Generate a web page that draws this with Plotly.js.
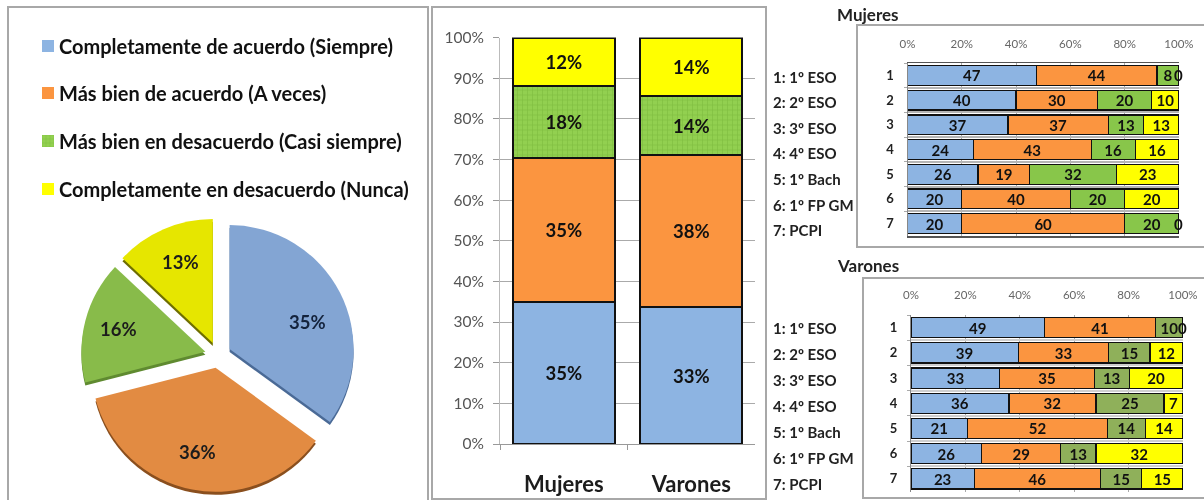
<!DOCTYPE html>
<html><head><meta charset="utf-8">
<script src="https://cdn.plot.ly/plotly-3.0.1.min.js"></script>
<style>html,body{margin:0;padding:0;background:#fff;overflow:hidden}#c{width:1204px;height:500px;filter:blur(0.5px)}
.legendpoints{transform:translateX(9px)}
.legendpoints path{stroke:none !important}</style>
</head><body><div id="c"></div>
<script>
const F='Lato, "Open Sans", sans-serif';
const seriesNames=['Completamente de acuerdo (Siempre)','Más bien de acuerdo (A veces)','Más bien en desacuerdo (Casi siempre)','Completamente en desacuerdo (Nunca)'];
const barColors=['#8DB4E2','#FB9540','#92D050','#FFFF00'];
const pieColors=['#83A5D3','#E28B42','#88BB4A','#E6E600'];
const pieShadow=['#4A6A96','#8A4F1E','#5F8A30','#6E6E00'];
const pieValues=[35,36,16,13];
const genders=['Mujeres','Varones'];
const totals=[[35,33.6],[35.3,37.4],[17.8,14.5],[11.9,14.5]];
const totalLabels=[['35%','33%'],['35%','38%'],['18%','14%'],['12%','14%']];
const rowIds=['1','2','3','4','5','6','7'];
const rowNames=['1: 1º ESO','2: 2º ESO','3: 3º ESO','4: 4º ESO','5: 1º Bach','6: 1º FP GM','7: PCPI'];
const mujeres=[[47,40,37,24,26,20,20],[44,30,37,43,19,40,60],[8,20,13,16,32,20,20],[0,10,13,16,23,20,0]];
const varones=[[49,39,33,36,21,26,23],[41,33,35,32,52,29,46],[10,15,13,25,14,13,15],[0,12,20,7,14,32,15]];
const pctTicks10=[0,10,20,30,40,50,60,70,80,90,100];
const pctTicks20=[0,20,40,60,80,100];
const greenV='#8FB05A';
const W=1204,H=500, fx=p=>p/W, fy=p=>1-p/H;
const pct=v=>v+'%';
const traces=[];
traces.push({type:'pie',values:pieValues,labels:seriesNames,sort:false,direction:'clockwise',rotation:0,pull:0.105,
  domain:{x:[fx(81),fx(355)],y:[fy(495),fy(221)]},marker:{colors:pieShadow,line:{width:0}},textinfo:'none',showlegend:false,hoverinfo:'skip'});
traces.push({type:'pie',values:pieValues,labels:seriesNames,sort:false,direction:'clockwise',rotation:0,pull:0.105,
  domain:{x:[fx(81),fx(355)],y:[fy(492),fy(218)]},marker:{colors:pieColors,line:{width:0}},textinfo:'none',showlegend:false});
seriesNames.forEach((n,i)=>traces.push({type:'bar',name:n,x:genders,y:totals[i],xaxis:'x',yaxis:'y',cliponaxis:false,
  legend:i?('legend'+(i+1)):'legend',
  marker:{color:barColors[i],line:{color:'#111',width:2},pattern:i==2?{shape:'+',fgcolor:'#7FBF40',bgcolor:barColors[2],size:5,solidity:0.25}:undefined},
  text:totalLabels[i],textposition:'inside',insidetextanchor:'middle',textangle:0,constraintext:'none',
  textfont:{family:F,size:18.5,color:'#111',weight:700}}));
function hbars(data,xa,ya,green){seriesNames.forEach((n,i)=>traces.push({type:'bar',orientation:'h',name:n,y:rowIds,x:data[i],xaxis:xa,yaxis:ya,showlegend:false,cliponaxis:false,
  marker:{color:i==2?green:barColors[i],line:{color:'#111',width:1.2}},
  text:data[i].map(String),textposition:'inside',insidetextanchor:'middle',textangle:0,constraintext:'none',
  textfont:{family:F,size:15,color:'#111',weight:700}}));}
hbars(mujeres,'x2','y2','#88C64A');
hbars(varones,'x3','y3',greenV);

const gray='#a8a8a8';
const panel=(x0,y0,x1,y1)=>({type:'rect',xref:'paper',yref:'paper',x0:fx(x0),x1:fx(x1),y0:fy(y1),y1:fy(y0),line:{color:gray,width:2},layer:'below'});
const annotations=[];
const add=(text,x,py,size)=>annotations.push({text,xref:'paper',x:fx(x),yref:'paper',y:fy(py),xanchor:'left',yanchor:'middle',showarrow:false,align:'left',font:{family:F,size,color:'#222',weight:700}});
rowNames.forEach((t,i)=>{add(t,771,77+25.5*i,15);add(t,771,328+26*i,15);});
add('Mujeres',835,14,17);
add('Varones',835,265,17);
const piePos=[[307,322],[197,452],[118,329],[180,262]];
pieValues.forEach((v,i)=>annotations.push({text:pct(v),xref:'paper',yref:'paper',x:fx(piePos[i][0]),y:fy(piePos[i][1]),xanchor:'center',yanchor:'middle',showarrow:false,font:{family:F,size:18.5,color:i==0?'#14233c':'#1c1c1c',weight:700}}));
[[mujeres,'x2','y2'],[varones,'x3','y3']].forEach(([d,xa,ya])=>d[3].forEach((v,i)=>{if(v===0)annotations.push({text:String(v),xref:xa,yref:ya,x:100,y:i,xanchor:'center',yanchor:'middle',showarrow:false,font:{family:F,size:15,color:'#111',weight:700}});}));
const legendAt=(py)=>({x:fx(27),xanchor:'left',y:fy(py),yanchor:'middle',bgcolor:'rgba(0,0,0,0)',font:{family:F,size:20,color:'#111',weight:700},itemclick:false,itemdoubleclick:false,indentation:-8});
const hx=(dom,extra)=>({domain:[fx(dom[0]),fx(dom[1])],range:[0,100.01],side:'top',tickvals:pctTicks20,ticktext:pctTicks20.map(pct),showgrid:true,gridcolor:'#aaa',gridwidth:1,zeroline:false,
  ticks:'',tickfont:{family:F,size:11.5,color:'#666'},ticklabelstandoff:13,...extra});
const hy=(dom,extra)=>({domain:[fy(dom[1]),fy(dom[0])],type:'category',categoryorder:'array',categoryarray:rowIds,autorange:false,range:[6.5,-0.5],showgrid:true,gridwidth:2,gridcolor:'#b5b5b5',zeroline:false,
  showline:true,linecolor:'#888',linewidth:1,ticks:'outside',ticklen:3,tickcolor:'#aaa',tickson:'boundaries',tickfont:{family:F,size:13,color:'#222',weight:700},ticklabelstandoff:10,...extra});
const layout={width:W,height:H,margin:{l:0,r:0,t:0,b:0,pad:0},paper_bgcolor:'#fff',plot_bgcolor:'rgba(0,0,0,0)',barmode:'stack',barnorm:'percent',bargap:0.2,showlegend:true,
  legend:legendAt(46),legend2:legendAt(93),legend3:legendAt(141),legend4:legendAt(189),
  xaxis:{domain:[fx(500),fx(755)],type:'category',showline:true,linecolor:'#999',ticks:'outside',ticklen:5,tickcolor:'#999',tickson:'boundaries',showgrid:false,
    tickfont:{family:F,size:22,color:'#1c1c1c',weight:700},ticklabelstandoff:21},
  yaxis:{domain:[fy(444),fy(37.5)],range:[0,100.01],tickvals:pctTicks10,ticktext:pctTicks10.map(pct),showline:true,linecolor:'#bbb',ticks:'outside',ticklen:6,tickcolor:'#999',
    gridcolor:'#aaa',zeroline:false,tickfont:{family:F,size:15.5,color:'#555'},ticklabelstandoff:6},
  xaxis2:{...hx([907.5,1179],{showline:true,linecolor:'#555',linewidth:1.5,mirror:true,ticklabelstandoff:9}),anchor:'y2'},yaxis2:{...hy([63,236]),anchor:'x2'},
  xaxis3:{...hx([911,1183]),anchor:'y3'},yaxis3:{...hy([315,491.5],{gridcolor:'#cfcfcf'}),anchor:'x3'},
  shapes:[panel(8,7,428,506),panel(432,7,766,499),panel(857,25,1210,247),panel(863,278,1210,498)],
  annotations};
Plotly.newPlot('c',traces,layout,{displayModeBar:false,staticPlot:true});
</script></body></html>
